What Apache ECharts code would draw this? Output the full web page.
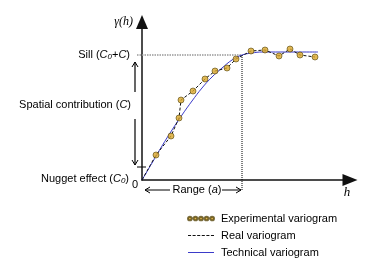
<!DOCTYPE html>
<html><head><meta charset="utf-8">
<script src="https://cdn.jsdelivr.net/npm/echarts@6/dist/echarts.min.js"></script>
<style>html,body{margin:0;padding:0;background:#fff}#c{width:371px;height:264px}</style>
</head><body><div id="c"></div>
<script>
// Experimental variogram (lag h, gamma)
const expH = [14, 29, 37, 39, 51, 63, 73, 85, 94, 109, 123, 137, 148, 158, 173];
const expG = [25, 44, 62, 80, 89, 101, 109, 112, 121, 129, 130, 124, 131, 125, 123];
// Technical (model) variogram
const techH = [0, 10, 20, 30, 40, 50, 60, 70, 80, 90, 100, 110, 120, 176];
const techG = [0, 17, 34, 50, 65, 79, 92, 103, 112, 120, 125, 127, 128, 128];
// Key levels
const SILL = 125, RANGE = 100, NUGGET = 13;
const legendNames = ['Experimental variogram', 'Real variogram', 'Technical variogram'];

const FONT = '"Liberation Sans", Arial, sans-serif';
const chart = echarts.init(document.getElementById('c'), null, {renderer: 'canvas'});
const expData = expH.map((h, i) => [h, expG[i]]);
const realData = [[0, 0]].concat(expData);
const techData = techH.map((h, i) => [h, techG[i]]);

const dotsIcon = 'path://M2,3a2,2 0 1,0 4,0a2,2 0 1,0 -4,0z M8,3a2,2 0 1,0 4,0a2,2 0 1,0 -4,0z M14,3a2,2 0 1,0 4,0a2,2 0 1,0 -4,0z M20,3a2,2 0 1,0 4,0a2,2 0 1,0 -4,0z M26,3a2,2 0 1,0 4,0a2,2 0 1,0 -4,0z';
const dashIcon = 'path://M0,0h3v1h-3z M4.5,0h3v1h-3z M9,0h3v1h-3z M13.5,0h3v1h-3z M18,0h3v1h-3z M22.5,0h3v1h-3z';
const lineIcon = 'path://M0,0h26v1h-26z';

chart.setOption({
  animation: false,
  grid: {left: 142, right: 21, top: 22, bottom: 84},
  xAxis: {type: 'value', min: 0, max: 208,
    axisLine: {show: true, lineStyle: {color: '#111', width: 1.5}, symbol: ['none', 'triangle'], symbolSize: [12, 15]},
    axisTick: {show: false}, axisLabel: {show: false}, splitLine: {show: false}},
  yAxis: {type: 'value', min: 0, max: 158,
    axisLine: {show: true, lineStyle: {color: '#111', width: 1.5}, symbol: ['none', 'triangle'], symbolSize: [12, 14]},
    axisTick: {show: false}, axisLabel: {show: false}, splitLine: {show: false}},
  legend: {
    orient: 'vertical', left: 182, top: 208, itemGap: 6, itemWidth: 26, itemHeight: 5,
    textStyle: {fontFamily: FONT, fontSize: 11, color: '#000', padding: [0, 0, 0, 2]},
    data: [
      {name: legendNames[0], icon: dotsIcon},
      {name: legendNames[1], icon: dashIcon},
      {name: legendNames[2], icon: lineIcon}
    ]
  },
  series: [
    {name: legendNames[2], type: 'line', data: techData, smooth: 0.4, showSymbol: false,
      lineStyle: {color: '#3b3bc9', width: 1}, itemStyle: {color: '#3b3bc9'}, z: 2},
    {name: legendNames[1], type: 'line', data: realData, showSymbol: false,
      lineStyle: {color: '#111', width: 1, type: [3, 2]}, itemStyle: {color: '#111'}, z: 3},
    {name: legendNames[0], type: 'scatter', data: expData, symbol: 'circle', symbolSize: 6,
      itemStyle: {color: '#d9a62a', borderColor: '#5a4a10', borderWidth: 0.8}, z: 4}
  ]
});

function P(x, y) { return chart.convertToPixel({gridIndex: 0}, [x, y]); }
const o = P(0, 0), s = P(RANGE, SILL), n = P(0, NUGGET);
const ax = o[0] - 7; // spatial contribution arrow x
const g = [];
// sill dotted line
g.push({type: 'line', shape: {x1: o[0] - 5, y1: s[1], x2: s[0], y2: s[1]}, style: {stroke: '#999', lineWidth: 1.5, lineDash: [1.5, 1]}, z: 1});
// range vertical dotted line
g.push({type: 'line', shape: {x1: s[0], y1: s[1], x2: s[0], y2: o[1] + 10}, style: {stroke: '#000', lineWidth: 1, lineDash: [1, 1]}, z: 1});
// nugget tick
g.push({type: 'line', shape: {x1: o[0] - 5, y1: n[1], x2: o[0] + 4, y2: n[1]}, style: {stroke: '#000', lineWidth: 1}});
// spatial contribution arrows
g.push({type: 'line', shape: {x1: ax, y1: s[1] + 7, x2: ax, y2: s[1] + 37}, style: {stroke: '#000', lineWidth: 1.2}});
g.push({type: 'polyline', shape: {points: [[ax - 3, s[1] + 12], [ax, s[1] + 7], [ax + 3, s[1] + 12]]}, style: {stroke: '#000', lineWidth: 1, fill: null}});
g.push({type: 'line', shape: {x1: ax, y1: s[1] + 64, x2: ax, y2: n[1] - 2}, style: {stroke: '#000', lineWidth: 1.2}});
g.push({type: 'polyline', shape: {points: [[ax - 3, n[1] - 7], [ax, n[1] - 2], [ax + 3, n[1] - 7]]}, style: {stroke: '#000', lineWidth: 1, fill: null}});
// range arrows
const ry = o[1] + 10;
g.push({type: 'line', shape: {x1: o[0] + 3, y1: ry, x2: o[0] + 28, y2: ry}, style: {stroke: '#000', lineWidth: 1}});
g.push({type: 'polyline', shape: {points: [[o[0] + 8, ry - 3], [o[0] + 3, ry], [o[0] + 8, ry + 3]]}, style: {stroke: '#000', lineWidth: 1, fill: null}});
g.push({type: 'line', shape: {x1: s[0] - 20, y1: ry, x2: s[0] - 1, y2: ry}, style: {stroke: '#000', lineWidth: 1}});
g.push({type: 'polyline', shape: {points: [[s[0] - 6, ry - 3], [s[0] - 1, ry], [s[0] - 6, ry + 3]]}, style: {stroke: '#000', lineWidth: 1, fill: null}});

const rich = {
  t: {fontFamily: FONT, fontSize: 11, fill: '#000'},
  i: {fontFamily: FONT, fontSize: 11, fontStyle: 'italic', fill: '#000'},
  sub: {fontFamily: FONT, fontSize: 8, fontStyle: 'italic', fill: '#000', verticalAlign: 'bottom', padding: [4, 0, 0, 0]}
};
function txt(x, y, text, align) {
  return {type: 'text', x: x, y: y, style: {text: text, rich: rich, align: align, verticalAlign: 'middle', fontFamily: FONT, fontSize: 11, fill: '#000'}};
}
g.push(txt(130, s[1], '{t|Sill (}{i|C}{sub|0}{t|+}{i|C}{t|)}', 'right'));
g.push(txt(131, (s[1] + n[1]) / 2 - 6, '{t|Spatial contribution (}{i|C}{t|)}', 'right'));
g.push(txt(129, o[1] - 1, '{t|Nugget effect (}{i|C}{sub|0}{t|)}', 'right'));
g.push(txt(o[0] - 4, o[1] + 5, '{t|0}', 'right'));
g.push(txt((o[0] + s[0]) / 2 + 5, ry, '{t|Range (}{i|a}{t|)}', 'center'));
g.push({type: 'text', x: o[0] - 9, y: 22, style: {text: 'γ(h)', align: 'right', verticalAlign: 'middle', fontFamily: '"Liberation Serif", serif', fontStyle: 'italic', fontSize: 12, fill: '#000'}});
g.push({type: 'text', x: 347, y: 193, style: {text: 'h', align: 'center', verticalAlign: 'middle', fontFamily: '"Liberation Serif", serif', fontStyle: 'italic', fontSize: 13, fill: '#000'}});
chart.setOption({graphic: g});
</script></body></html>
